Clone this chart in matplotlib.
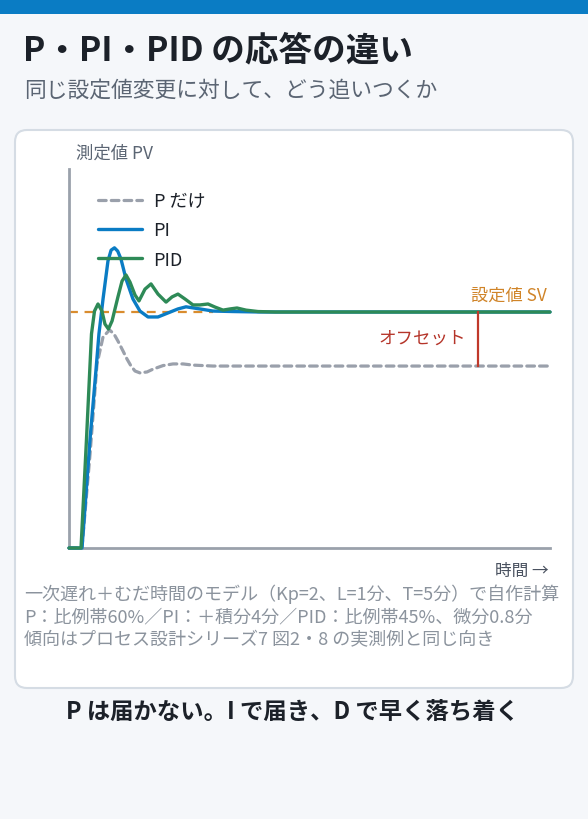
import matplotlib
matplotlib.use("Agg")
import matplotlib.pyplot as plt
from matplotlib.patches import FancyBboxPatch, Rectangle
from matplotlib.transforms import IdentityTransform

plt.rcParams['font.family'] = ['Noto Sans CJK JP', 'DejaVu Sans']

# ---- data (time in minutes, PV normalised so SV = 1) ----
setpoint = 1.0
p_offset_value = 0.771

t_p = [0, 1.08, 1.75, 2.33, 2.83, 3.37, 3.74, 4.07, 4.49, 4.82, 5.16, 5.49, 5.90,
       6.49, 6.99, 7.82, 8.65, 9.48, 10.31, 11.98, 40]
v_p = [0, 0, 0.398, 0.780, 0.894, 0.924, 0.907, 0.877, 0.835, 0.801, 0.771, 0.750,
       0.742, 0.746, 0.758, 0.773, 0.780, 0.780, 0.775, 0.771, 0.771]

t_pi = [0, 1.08, 1.75, 2.25, 2.49, 2.83, 3.24, 3.50, 3.78, 4.05, 4.32, 4.74, 5.32,
        5.90, 6.57, 7.40, 8.23, 9.06, 9.73, 10.89, 11.98, 13.64, 15.88, 40]
v_pi = [0, 0, 0.462, 0.758, 0.907, 1.055, 1.216, 1.262, 1.272, 1.258, 1.225, 1.140,
        1.055, 1.004, 0.979, 0.979, 0.996, 1.013, 1.022, 1.013, 1.004, 1.002, 1.0, 1.0]

t_pid = [0, 1.0, 1.455, 1.87, 2.12, 2.41, 2.74, 2.99, 3.28, 3.58, 4.07, 4.41, 4.74,
         5.07, 5.49, 5.82, 6.32, 6.82, 7.40, 8.07, 8.57, 9.06, 9.65, 10.31, 10.89,
         11.56, 12.14, 12.81, 13.39, 13.97, 14.72, 15.72, 17.13, 40]
v_pid = [0, 0, 0.462, 0.907, 1.004, 1.034, 1.004, 0.949, 0.928, 0.962, 1.064, 1.131,
         1.157, 1.127, 1.072, 1.047, 1.097, 1.119, 1.076, 1.042, 1.064, 1.076, 1.055,
         1.030, 1.030, 1.034, 1.021, 1.008, 1.013, 1.017, 1.008, 1.002, 1.0, 1.0]

legend_labels = ['P だけ', 'PI', 'PID']
offset_x = 34.0

W, H = 588, 820
fig = plt.figure(figsize=(W / 100, H / 100), dpi=100)
fig.patch.set_facecolor('#f5f7fa')


def fx(x):
    return x / W


def fy(y):
    return 1 - y / H


# top bar
fig.patches.append(Rectangle((0, H - 15), W, 15, transform=IdentityTransform(),
                             facecolor='#0a7cc4', edgecolor='none', zorder=-2))
# card
fig.patches.append(FancyBboxPatch((15, H - 689), 558, 558,
                                  boxstyle='round,pad=0,rounding_size=12',
                                  transform=IdentityTransform(),
                                  facecolor='white', edgecolor='#d5dce4', linewidth=1.5,
                                  zorder=-2))

fig.text(fx(23), fy(51), 'P・PI・PID の応答の違い', fontsize=24.2, fontweight='bold',
         color='#1c2129', va='center', ha='left')
fig.text(fx(24), fy(91), '同じ設定値変更に対して、どう追いつくか', fontsize=15.7,
         color='#5b6573', va='center', ha='left')

ax = fig.add_axes([fx(69), fy(549), (550 - 69) / W, (549 - 170) / H])
ax.set_facecolor('none')
ax.set_xlim(0, 40)
ax.set_ylim(0, 1.606)
for s in ['top', 'right']:
    ax.spines[s].set_visible(False)
for s in ['left', 'bottom']:
    ax.spines[s].set_color('#9aa1ab')
    ax.spines[s].set_linewidth(2)
ax.set_xticks([])
ax.set_yticks([])

ax.axhline(setpoint, xmin=0, xmax=12 / 40, color='#d98c2e', lw=1.6, ls=(0, (4, 3)), zorder=2)
lp, = ax.plot(t_p, v_p, color='#9aa0ab', lw=2.3, ls=(0, (2.4, 1.6)), clip_on=False, zorder=3,
              solid_capstyle='round', dash_capstyle='round')
lpi, = ax.plot(t_pi, v_pi, color='#0a7cc4', lw=2.4, clip_on=False, zorder=4,
               solid_joinstyle='round', solid_capstyle='round')
lpid, = ax.plot(t_pid, v_pid, color='#2e8a57', lw=2.4, clip_on=False, zorder=5,
                solid_joinstyle='round', solid_capstyle='round')

# offset marker
ax.plot([offset_x, offset_x], [p_offset_value, setpoint], color='#c0392b', lw=1.6, zorder=6)
ax.text(offset_x - 1.0, (p_offset_value + setpoint) / 2 + 0.005, 'オフセット', color='#b5352a',
        fontsize=12.6, ha='right', va='center')
ax.text(39.7, setpoint + 0.035, '設定値 SV', color='#d08428', fontsize=12.4,
        ha='right', va='bottom')

leg = ax.legend([lp, lpi, lpid], legend_labels, loc='upper left',
                bbox_to_anchor=(fx(104) - fx(69), 1 - (193 - 170) / (549 - 170)),
                bbox_transform=ax.transAxes, frameon=False, fontsize=13,
                handlelength=2.45, handletextpad=0.65, labelspacing=0.63,
                borderaxespad=0, borderpad=0)
for txt in leg.get_texts():
    txt.set_color('#1c2129')

fig.text(fx(76), fy(154), '測定値 PV', fontsize=12.5, color='#5b6573', va='center', ha='left')
fig.text(fx(549), fy(571), '時間 →', fontsize=12, color='#4a5260', va='center', ha='right')

notes = ['一次遅れ＋むだ時間のモデル（Kp=2、L=1分、T=5分）で自作計算',
         'P：比例帯60%／PI：＋積分4分／PID：比例帯45%、微分0.8分',
         '傾向はプロセス設計シリーズ7 図2・8 の実測例と同じ向き']
for i, line in enumerate(notes):
    fig.text(fx(24), fy(594 + i * 23), line, fontsize=13.0, color='#8b939d',
             va='center', ha='left')

fig.text(fx(293), fy(712), 'P は届かない。I で届き、D で早く落ち着く', fontsize=16.8,
         fontweight='bold', color='#1c2129', va='center', ha='center')

fig.savefig('out.png', dpi=100, facecolor=fig.get_facecolor())
